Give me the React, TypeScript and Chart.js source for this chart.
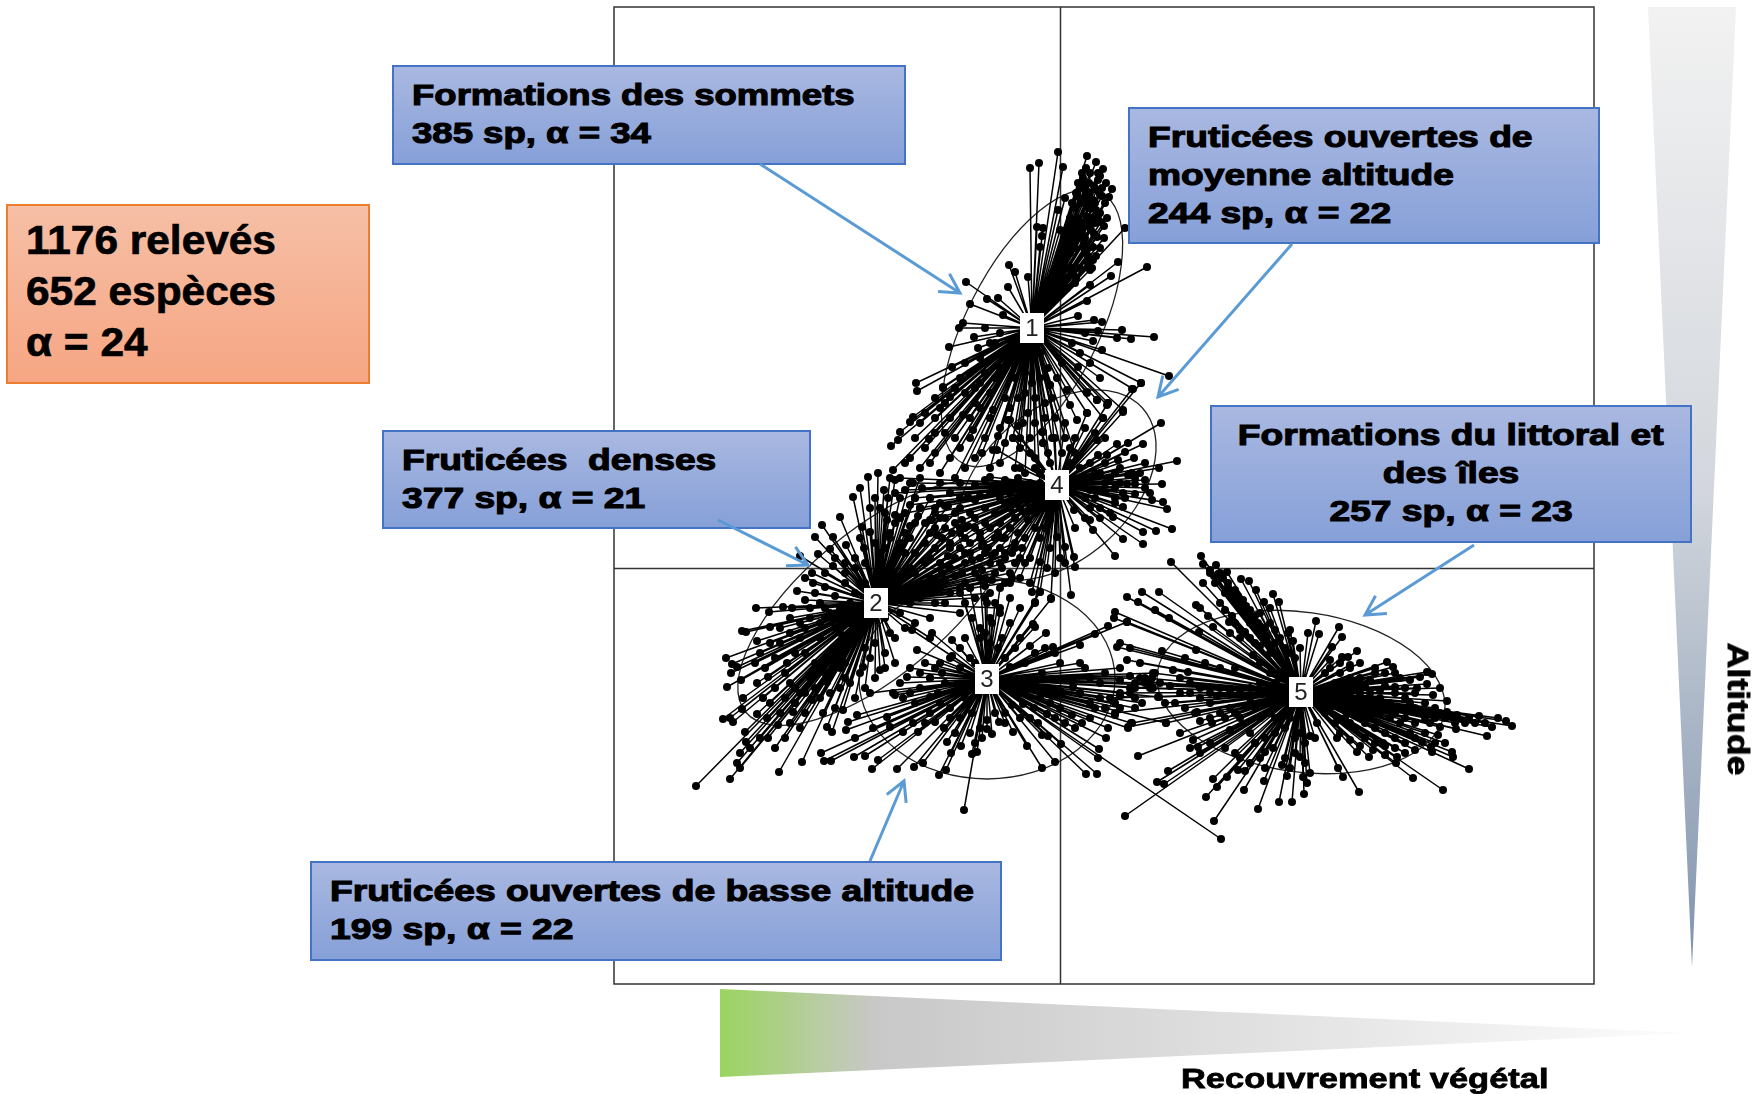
import React, { useEffect, useRef } from "react";
import { Chart, registerables } from "chart.js";

Chart.register(...registerables);

type P = [number, number];

const classLabels = ["1", "2", "3", "4", "5"];
const classCentres: P[] = [[-28, 240], [-184, -35], [-73, -111], [-3, 83], [241, -124]];
// semi-axes and tilt (degrees) of each class ellipse
const ellipseA = [152, 170, 128, 115, 145];
const ellipseB = [66, 72, 100, 75, 80];
const ellipseTilt = [-63, -40, 0, -42, 8];

const class1Points: P[] = [
  [-30,400],[-21,405],[-2,416],[3,401],[27,412],[36,406],[43,399],[38,395],[52,379],[49,371],[40,373],[5,370],[23,390],[38,388],[42,380],[65,340],[37,331],[33,321],[33,308],[58,306],[87,301],[51,292],[13,295],[15,285],[30,283],[27,267],[18,252],[34,248],[42,246],[62,238],[57,230],[38,237],[33,227],[71,229],[94,231],[109,192],[81,185],[73,179],[40,190],[47,163],[18,201],[27,176],[37,168],
  [-94,286],[-51,303],[-45,296],[-52,281],[-32,291],[-90,264],[-73,269],[-62,270],[-57,253],[-97,245],[-101,240],[-75,240],[-86,231],[-111,221],[-82,220],[-108,201],[-144,185],[-143,177],[-117,180],[-110,171],
  [-23,341],[-17,340],[-18,332],[-20,321],[-2,358],[0,338],
  [20,380],[25,370],[28,360],[32,350],[35,345],[30,375],[35,365],[40,355],[15,360],[18,350],[22,340],[10,350],[12,330],[8,320],[5,310],[15,320],[25,330],[30,340],[0,300],[3,290],[-5,285],[-10,280],[7,280],[12,300],[16,290],[20,300],[24,320],[28,312],[18,330],[14,345],[26,352],[33,368],[37,378],[21,365],[17,372],[29,385],
  [24,385],[26,378],[28,372],[31,366],[33,360],[36,358],[38,352],[41,346],[44,342],[27,348],[29,344],[31,338],[34,334],[20,345],[22,335],[24,325],[26,318],[28,305],[30,298],[16,335],[14,325],[10,315],[6,300],[2,296],[32,300],[36,312],[40,320],[44,330],[47,350],[45,365],[42,372],[46,385],[34,382],[40,392],[30,395],[26,400],[22,395],[18,385],[16,375],[12,365],[9,340],[7,330],[4,322],[1,315],[-3,305],[-7,295],
  [-160,136],[-162,128],[-169,122],[-147,151],[-150,146],[-125,150],[-131,129],[-117,181],[-120,160],[-105,130],[-97,153],[-87,138],[-80,185],[-67,158],[-50,148],[-37,145],[-32,155],[-47,130],[-67,118],[-17,125],[-17,136],[-10,183],[7,178],[10,163],[27,155],[43,150],[27,175],[37,168],[48,165],[63,158],[17,148],[-130,105],[-167,98],
  [-60,200],[-45,190],[-35,175],[-25,170],[-15,165],[-5,150],[-70,175],[-85,165],[-95,175],[-55,170],[-40,120],[-25,110],[-10,105],[5,130],[15,115],[-75,205],[-90,195],[-65,225],[-50,218],[20,215],[30,205],[42,218],[12,225],[25,235],[-12,200],[-20,215],[2,205],
  [-60,235],[-70,225],[-80,210],[-95,205],[-100,190],[-105,180],[-115,165],[-125,170],[-135,155],[-140,145],[-90,150],[-80,160],[-70,150],[-60,140],[-50,160],[-42,170],[-35,195],[-28,185],[-20,190],[-15,150],[-8,170],[-3,190],[-30,130],[-55,125],[-75,130],[-100,120],[-115,135],[-135,120],[-150,110],[-65,190],[-50,205],[-40,215],[-85,180],[-75,195],
  [-125,115],[-110,110],[-95,100],[-85,110],[-70,100],[-60,105],[-45,100],[-35,95],[-20,85],[-155,105],[-140,100],[-120,95],[-105,90],[-145,130],[-125,135],[-110,150],[-90,130],[-78,115],[-62,132],[-42,142],[-25,145],[-8,130],[2,115],
];

const class2Points: P[] = [
  [-207,71],[-220,51],[-238,43],[-245,31],[-227,31],[-214,23],[-230,19],[-242,14],[-260,12],[-227,2],[-248,-5],[-247,-15],[-263,-23],[-235,-19],[-255,-32],[-304,-40],[-291,-44],[-277,-39],[-268,-40],[-318,-63],[-314,-64],[-290,-59],[-303,-73],[-334,-90],[-328,-96],[-323,-99],[-329,-105],[-305,-95],[-319,-112],[-333,-119],[-303,-115],[-292,-109],[-273,-95],[-317,-130],[-297,-130],[-318,-141],[-337,-151],[-330,-150],[-327,-154],[-303,-146],[-293,-150],[-315,-164],[-282,-157],[-314,-174],[-292,-170],[-320,-185],[-323,-195],[-320,-200],[-330,-211],[-364,-218],[-281,-204],[-258,-194],[-267,-144],[-255,-145],[-265,-120],[-270,-115],[-260,-125],[-237,-145],[-233,-159],[-228,-164],[-225,-140],[-217,-142],[-215,-110],[-233,-114],[-248,-132],[-197,-99],[-180,-102],
  [-192,91],[-182,95],[-185,70],[-198,41],[-190,36],[-173,48],[-200,80],[-176,78],[-165,88],
  [-140,60],[-120,50],[-100,40],[-80,30],[-60,20],[-40,10],[-130,35],[-110,25],[-90,15],[-70,5],[-50,-5],[-150,30],[-160,70],[-150,85],[-140,90],[-130,70],[-170,90],[-160,50],[-175,20],[-165,10],[-150,0],[-130,10],[-110,0],[-95,-15],[-120,-20],[-140,-15],[-100,-45],[-85,-30],[-70,-25],[-60,-40],[-130,-50],
  [-260,-70],[-240,-70],[-225,-60],[-250,-50],[-220,-40],[-230,-85],[-210,-75],[-245,-95],[-215,-95],[-270,-65],[-280,-75],[-235,-50],[-255,-60],[-265,-85],[-285,-90],[-275,-105],[-250,-110],[-255,-85],[-210,-55],[-200,-60],[-205,-25],[-215,-15],[-225,-28],[-240,-35],[-205,-45],[-195,-80],[-185,-75],[-175,-85],[-165,-70],[-155,-60],[-205,10],[-195,5],[-215,5],[-180,15],[-170,30],[-145,45],[-125,20],[-100,20],[-115,-35],[-150,-35],[-165,-15],
  [-175,55],[-165,45],[-155,55],[-145,70],[-135,45],[-125,60],[-115,40],[-105,55],[-95,30],[-85,40],[-75,15],[-65,30],[-55,10],[-45,25],[-145,15],[-135,25],[-120,5],[-105,10],[-95,5],[-85,-5],[-75,-10],[-65,-5],[-55,-15],[-155,15],[-145,-5],[-130,-10],[-115,-12],[-100,-25],[-155,-25],[-140,-30],[-125,-35],[-110,-25],[-170,35],[-160,25],[-150,42],[-180,60],[-172,70],[-190,60],[-196,20],[-185,25],[-200,30],[-178,-10],[-168,-5],[-160,-10],
  [-290,-75],[-280,-60],[-270,-50],[-260,-55],[-250,-40],[-240,-55],[-230,-45],[-220,-65],[-210,-35],[-300,-85],[-295,-100],[-285,-120],[-275,-130],[-265,-135],[-255,-125],[-245,-120],[-235,-105],[-225,-90],[-290,-135],[-280,-145],[-270,-155],[-260,-160],[-300,-170],[-285,-180],[-275,-170],[-310,-180],[-240,-130],[-230,-125],[-220,-120],[-210,-115],[-200,-105],[-190,-90],[-205,-130],[-195,-120],[-185,-110],[-175,-100],[-165,-95],[-220,-100],[-235,-40],[-245,-25],[-255,-10],[-235,-5],[-225,10],[-215,-5],[-205,0],[-195,-15],[-190,-50],[-175,-50],[-160,-45],[-145,-55],[-130,-70],[-170,-65],
  [-125,40],[-118,30],[-108,35],[-92,42],[-78,22],[-68,12],[-58,30],[-48,15],[-38,20],[-135,5],[-112,12],[-98,-5],[-88,8],[-78,-2],[-68,-12],[-58,0],[-48,-10],[-155,35],[-142,52],[-128,48],[-112,62],[-98,48],[-148,-18],[-135,-22],[-118,-5],[-105,-8],[-90,-20],[-75,-18],
];

const class3Points: P[] = [
  [-163,-201],[-146,-199],[-137,-195],[-121,-207],[-114,-202],[-109,-185],[-113,-174],[-99,-178],[-88,-186],[-83,-184],[-96,-242],[-116,-160],[-142,-164],[-157,-164],[-147,-155],[-170,-159],[-135,-155],[-125,-154],[-73,-152],[-68,-166],[-73,-161],[-61,-154],[-47,-164],[-33,-178],[-18,-200],[-5,-194],[1,-176],[-12,-168],[-18,-167],[26,-206],[37,-206],[38,-190],[39,-181],[46,-170],[48,-160],[68,-160],[71,-155],[106,-155],[55,-147],[22,-155],[12,-147],[-13,-146],[-26,-140],[-37,-136],[-48,-137],[2,-125],[-3,-125],[12,-111],[13,-119],[-18,-105],[90,-117],[92,-110],[95,-105],[90,-120],[98,-129],[20,-77],[-7,-79],[35,-66],[48,-58],[67,-54],[-14,-65],[-25,-59],[-27,-56],[-50,-99],[-65,-35],[-73,-35],[-25,-35],[-20,-24],[-9,-31],
  [-148,-62],[-128,-65],[-108,-72],[-143,-82],[-130,-110],[-165,-127],[-157,-130],[-130,-129],[-122,-125],[-145,-135],[-173,-149],
  [-239,-185],[-236,-193],[-229,-193],[-206,-189],[-195,-188],[-188,-201],[-182,-192],[-205,-170],[-187,-160],[-212,-154],[-214,-162],[-203,-147],[-190,-125],[-167,-125],[-153,-109],[-130,-110],[161,-271],
  [-90,-20],[-75,-30],[-60,-20],[-50,-30],[-40,-40],[-95,-35],[-80,-10],[-100,-20],[-110,-90],[-100,-100],[-115,-115],[-105,-125],[-95,-130],[-110,-140],[-100,-150],[-88,-145],[-80,-160],[-55,-145],[-40,-125],[-30,-120],[-20,-130],[-10,-135],[0,-140],[30,-135],[40,-130],[20,-125],[-35,-95],[-45,-80],[-58,-70],[-30,-78],[-120,-95],[-80,-60],[-68,-55],[-88,-50],
  [-90,-90],[-85,-95],[-80,-70],[-75,-65],[-70,-75],[-62,-80],[-55,-90],[-100,-80],[-95,-70],[-108,-88],[-118,-105],[-125,-100],[-135,-95],[-140,-105],[-150,-100],[-160,-115],[-140,-120],[-150,-125],[-120,-135],[-130,-145],[-110,-150],[-105,-165],[-90,-165],[-85,-175],[-78,-170],[-65,-145],[-55,-155],[-40,-150],[-30,-150],[-22,-155],[-5,-150],[5,-155],[15,-160],[30,-150],[35,-140],[45,-140],[55,-135],[60,-128],[70,-125],[75,-120],[60,-112],[40,-115],[30,-110],[45,-105],[60,-100],[25,-100],[20,-95],[0,-95],[-5,-85],[-15,-80],[-25,-85],[-40,-70],[-50,-55],[-60,-45],[-70,-50],[85,-115],[80,-110],[70,-108],[75,-130],[60,-140],[75,-140],[82,-135],
];

const class4Points: P[] = [
  [101,145],[83,124],[68,125],[57,124],[65,116],[74,110],[117,107],[99,100],[85,105],[58,108],[47,113],[38,113],[68,93],[72,95],[102,84],[75,84],[67,84],[75,74],[92,68],[103,66],[107,59],[63,75],[45,76],[63,61],[53,51],[112,39],[96,37],[83,36],[63,29],[83,24],[33,38],[55,12],[14,58],[15,1],[14,11],[11,-27],[-9,-30],[5,21],[-3,31],[-20,6],[-13,0],[-28,-24],[-20,-24],[-25,-34],[-45,5],[-62,35],[-77,25],[-32,48],[-10,48],[-100,60],[-123,33],[-70,91],[-92,71],[-85,83],[-138,80],[-147,85],[-160,90],[-165,75],[-150,63],[-165,53],[-52,148],[-63,118],[-47,130],[-17,125],[-18,136],[-10,183],[27,155],[43,150],[63,156],[48,165],[72,179],[81,185],[37,128],
  [-40,100],[-30,85],[-25,70],[-40,60],[-60,70],[-75,60],[-100,85],[-110,75],[-120,65],[-85,50],[-55,30],[-45,20],[-35,30],[-25,40],[-15,60],[-8,70],[10,120],[15,130],[25,140],[35,135],[45,130],[-50,75],[-65,80],[-80,72],[-35,70],[-30,60],[-20,95],[-12,115],[-5,130],[5,145],[50,90],[55,80],[40,95],[35,70],[30,60],[40,60],[25,50],[15,40],
  [-20,75],[-15,80],[-30,75],[-40,78],[-50,60],[-55,65],[-65,55],[-70,40],[-75,45],[-90,55],[-95,40],[-105,45],[-115,50],[-125,55],[-130,70],[-140,60],[-45,50],[-50,40],[-35,55],[-25,55],[-20,30],[-10,20],[0,10],[5,5],[-5,-5],[-30,10],[-35,5],[-40,-10],[-30,-15],[-55,15],[-65,15],[-80,10],[-90,25],[-100,35],[-110,20],[-10,90],[-25,100],[-30,115],[-40,130],[5,95],[10,105],[20,100],[30,105],[35,95],[45,105],[55,95],[60,100],[65,70],[55,65],[50,55],[40,50],[30,48],[25,70],[30,78],[45,85],[55,70],[60,85],[75,90],[80,95],[85,88],[85,80],[90,75],
  [-70,75],[-85,68],[-100,70],[-115,62],[-130,48],[-145,70],[-155,78],[-60,45],[-80,35],[-95,15],[-60,5],[-50,-15],[-72,20],[-42,35],[-15,40],[-55,88],[-42,90],[-75,88],[-120,85],
];

const class5Points: P[] = [
  [141,12],[143,4],[156,3],[160,-5],[167,-4],[111,6],[143,-15],[181,-11],[189,-13],[168,-19],[196,-22],[213,-26],[219,-34],[204,-34],[175,-32],[180,-40],[99,-24],[82,-24],[67,-29],[78,-34],[95,-42],[109,-50],[136,-37],[140,-40],[148,-48],[172,-48],[169,-54],[153,-59],[55,-44],[54,-50],[67,-54],[139,-64],[170,-65],[185,-64],[230,-62],[228,-65],[233,-73],[60,-75],[57,-79],[70,-80],[102,-83],[136,-82],[67,-92],[80,-95],[113,-102],[128,-104],[93,-105],[90,-114],[93,-120],[99,-129],[157,-128],[193,-87],[240,-80],[256,-53],[248,-65],[259,-66],[279,-59],[282,-69],[272,-79],[297,-83],[288,-89],[290,-97],[282,-89],[270,-92],[327,-94],[333,-99],[335,-105],[315,-105],[360,-109],[367,-104],[372,-106],[367,-116],[380,-120],[357,-120],[373,-127],[387,-133],[335,-119],
  [452,-158],[446,-153],[438,-150],[432,-159],[427,-168],[419,-148],[409,-150],[397,-147],[396,-161],[387,-144],[380,-145],[378,-167],[380,-159],[392,-184],[393,-189],[409,-201],[383,-222],[371,-179],[372,-184],[362,-174],[355,-182],[353,-210],[337,-189],[336,-195],[325,-187],[313,-182],[323,-175],[309,-189],[297,-184],[299,-224],[283,-209],[278,-200],[277,-170],[250,-168],[257,-155],[247,-215],[244,-226],[243,-209],[240,-189],[232,-234],[219,-234],[227,-208],[198,-241],[204,-213],[184,-222],[213,-180],[205,-184],[222,-197],[185,-203],[178,-202],[167,-209],[153,-211],[157,-219],[146,-229],[154,-253],[65,-248],[108,-203],[97,-214],[104,-216],[78,-188],[138,-179],[133,-172],[106,-155],[170,-162],[152,-155],[140,-153],[137,-144],[55,-145],[68,-159],[72,-155],
  [300,-110],[310,-125],[320,-130],[330,-135],[340,-140],[350,-135],[345,-150],[355,-155],[330,-150],[320,-145],[310,-140],[300,-135],[290,-125],[285,-115],[295,-145],[305,-155],[315,-160],[325,-165],[335,-170],[345,-175],[360,-145],[365,-150],[370,-155],[375,-150],[350,-165],[340,-155],[290,-155],[280,-140],[275,-130],[365,-135],[355,-125],[345,-120],[325,-118],[310,-112],[280,-105],[290,-110],
  [200,-115],[190,-130],[170,-140],[180,-150],[160,-145],[150,-135],[140,-130],[130,-125],[175,-100],[160,-100],[145,-95],[125,-90],[200,-95],[210,-105],[195,-75],[180,-70],[205,-60],[215,-75],[190,-50],[200,-45],[210,-40],[150,-5],[158,-12],[165,-25],[172,-28],[178,-35],[185,-45],[190,-55],[200,-58],[155,-15],
  [150,-2],[154,-8],[158,-6],[163,-10],[168,-15],[170,-25],[175,-22],[178,-28],[183,-32],[186,-38],[190,-42],[195,-48],[198,-55],[203,-62],[207,-68],[210,-55],[215,-62],[220,-70],[225,-80],[230,-85],[235,-90],[160,-35],[165,-42],[175,-55],[180,-62],[190,-70],[200,-78],[210,-85],[220,-92],[225,-100],
  [270,-100],[280,-95],[290,-100],[300,-95],[315,-100],[325,-105],[340,-110],[350,-112],[335,-125],[320,-122],[305,-118],[295,-120],[285,-125],[275,-115],[265,-105],[270,-120],[280,-130],[290,-135],[300,-125],[315,-135],[325,-140],[335,-145],[345,-130],[355,-140],[365,-145],[375,-140],[385,-150],[395,-155],[405,-155],[415,-155],[425,-155],[270,-140],[285,-150],[295,-160],[305,-170],[315,-175],[325,-178],[335,-180],[345,-185],[355,-170],[365,-165],[375,-175],[385,-175],[300,-150],[310,-150],[265,-145],[275,-155],[280,-165],[290,-172],[300,-178],
  [120,-110],[130,-115],[140,-120],[150,-125],[160,-120],[170,-125],[180,-125],[190,-120],[200,-125],[210,-125],[215,-115],[220,-110],[225,-105],[205,-135],[195,-140],[185,-138],[175,-145],[165,-150],[210,-145],[200,-150],[215,-150],[190,-165],[195,-175],[205,-170],[215,-165],[225,-160],[230,-150],[235,-170],[245,-175],[255,-170],[240,-165],[100,-115],[110,-118],[120,-125],[105,-135],[115,-135],[125,-140],[135,-145],[150,-150],[85,-110],[75,-115],[70,-120],[60,-125],[50,-130],
  [120,-165],[130,-180],[140,-185],[150,-175],[165,-180],[175,-185],[180,-190],[190,-195],[200,-190],[230,-200],[235,-185],[245,-195],[250,-205],[225,-190],[205,-200],
];

const classPoints = [class1Points, class2Points, class3Points, class4Points, class5Points];

const axisMinX = -446, axisMaxX = 534, axisMinY = -416, axisMaxY = 561;

const blueBoxes = [
  { left: 392, top: 65, width: 514, height: 100, lines: ["Formations des sommets", "385 sp, α = 34"], center: false, stretch: 1.218 },
  { left: 1128, top: 107, width: 472, height: 137, lines: ["Fruticées ouvertes de", "moyenne altitude", "244 sp, α = 22"], center: false, stretch: 1.24 },
  { left: 1210, top: 405, width: 482, height: 138, lines: ["Formations du littoral et", "des îles", "257 sp, α = 23"], center: true, stretch: 1.24 },
  { left: 382, top: 430, width: 429, height: 99, lines: ["Fruticées  denses", "377 sp, α = 21"], center: false, stretch: 1.24 },
  { left: 310, top: 861, width: 692, height: 100, lines: ["Fruticées ouvertes de basse altitude", "199 sp, α = 22"], center: false, stretch: 1.242 },
];
const summaryLines = ["1176 relevés", "652 espèces", "α = 24"];
const arrows = [
  [760, 164, 960, 293],
  [1292, 244, 1158, 397],
  [718, 520, 808, 565],
  [1474, 545, 1365, 615],
  [870, 861, 904, 781],
];

const frame = {
  id: "frame",
  beforeDatasetsDraw(chart: any) {
    const { ctx, chartArea: a, scales } = chart;
    ctx.save();
    ctx.strokeStyle = "#333";
    ctx.lineWidth = 1.5;
    ctx.strokeRect(a.left, a.top, a.right - a.left, a.bottom - a.top);
    const x0 = scales.x.getPixelForValue(0) + 0.5, y0 = scales.y.getPixelForValue(0) + 0.5;
    ctx.beginPath();
    ctx.moveTo(x0, a.top); ctx.lineTo(x0, a.bottom);
    ctx.moveTo(a.left, y0); ctx.lineTo(a.right, y0);
    ctx.stroke();
    ctx.strokeStyle = "#222";
    ctx.lineWidth = 1.3;
    classCentres.forEach((c, i) => {
      const cx = scales.x.getPixelForValue(c[0]), cy = scales.y.getPixelForValue(c[1]);
      const rx = Math.abs(scales.x.getPixelForValue(c[0] + ellipseA[i]) - cx);
      const ry = Math.abs(scales.y.getPixelForValue(c[1] + ellipseB[i]) - cy);
      ctx.beginPath();
      ctx.ellipse(cx, cy, rx, ry, (ellipseTilt[i] * Math.PI) / 180, 0, Math.PI * 2);
      ctx.stroke();
    });
    ctx.restore();
  },
  afterDatasetsDraw(chart: any) {
    const { ctx, scales } = chart;
    ctx.save();
    ctx.font = '24px "Liberation Sans"';
    ctx.textAlign = "center";
    ctx.textBaseline = "middle";
    classCentres.forEach((c, i) => {
      const cx = scales.x.getPixelForValue(c[0]), cy = scales.y.getPixelForValue(c[1]);
      ctx.fillStyle = "#fff";
      ctx.fillRect(cx - 12, cy - 15, 24, 30);
      ctx.fillStyle = "#222";
      ctx.fillText(classLabels[i], cx, cy + 1);
    });
    ctx.restore();
  },
};

const Stretched = ({ text, sx, size, center }: any) => (
  <div style={{ height: 38, lineHeight: "38px", fontSize: size, whiteSpace: "pre", textAlign: center ? "center" : "left" }}>
    <span style={{ display: "inline-block", transform: `scaleX(${sx})`, transformOrigin: center ? "center" : "left" }}>{text}</span>
  </div>
);

export default function App() {
  const ref = useRef<HTMLCanvasElement>(null);
  useEffect(() => {
    const datasets: any[] = classPoints.map((pts, i) => {
      const c = classCentres[i];
      const star: { x: number; y: number }[] = [];
      pts.forEach((p) => {
        star.push({ x: c[0], y: c[1] });
        star.push({ x: p[0], y: p[1] });
      });
      return {
        label: classLabels[i],
        data: star,
        showLine: true,
        borderColor: "#000",
        backgroundColor: "#000",
        borderWidth: 1.5,
        pointBorderWidth: 0,
        pointRadius: (ctx: any) => (ctx.dataIndex % 2 === 1 ? 4 : 0),
        tension: 0,
      };
    });
    const chart = new Chart(ref.current!, {
      type: "scatter",
      data: { datasets },
      options: {
        animation: false,
        responsive: false,
        devicePixelRatio: 1,
        layout: { padding: { left: 614, top: 7, right: 160, bottom: 110 } },
        plugins: { legend: { display: false }, tooltip: { enabled: false } },
        scales: {
          x: { type: "linear", min: axisMinX, max: axisMaxX, display: false },
          y: { type: "linear", min: axisMinY, max: axisMaxY, display: false },
        },
      },
      plugins: [frame],
    });
    return () => chart.destroy();
  }, []);

  const font = '"Liberation Sans", Arial, sans-serif';
  return (
    <div style={{ position: "absolute", left: 0, top: 0, width: 1754, height: 1094, overflow: "hidden", background: "#fff", fontFamily: font, fontWeight: 700, color: "#000" }}>
      <canvas ref={ref} width={1754} height={1094} style={{ position: "absolute", left: 0, top: 0 }} />

      <div style={{ position: "absolute", left: 1648, top: 7, width: 88, height: 960, clipPath: "polygon(0 0, 100% 0, 50% 100%)", background: "linear-gradient(#f2f2f2, #d3d7dd 50%, #7f93ae)" }} />
      <div style={{ position: "absolute", left: 720, top: 989, width: 970, height: 88, clipPath: "polygon(0 0, 100% 50%, 0 100%)", background: "linear-gradient(90deg, #9bd45f, #c8c8c8 16%, #fbfbfb 97%)" }} />

      <div style={{ position: "absolute", left: 6, top: 204, width: 360, height: 176, border: "2px solid #ed7d31", background: "linear-gradient(#f6bfa6, #f6a683)" }}>
        {summaryLines.map((l, i) => (
          <div key={i} style={{ position: "absolute", left: 18, top: 11 + i * 51, fontSize: 40, lineHeight: "46px", whiteSpace: "pre", transform: "scaleX(1.06)", transformOrigin: "left", WebkitTextStroke: "0.7px #000" }}>{l}</div>
        ))}
      </div>

      {blueBoxes.map((b, i) => (
        <div key={i} style={{ position: "absolute", left: b.left, top: b.top, width: b.width - 4, height: b.height - 4, border: "2px solid #4472c4", background: "linear-gradient(#a9b8e1, #86a0d8)" }}>
          <div style={{ position: "absolute", left: b.center ? 0 : 18, right: 0, top: 9, WebkitTextStroke: "1.1px #000" }}>
            {b.lines.map((l, j) => <Stretched key={j} text={l} sx={b.stretch} size={30} center={b.center} />)}
          </div>
        </div>
      ))}

      <svg width={1754} height={1094} style={{ position: "absolute", left: 0, top: 0, pointerEvents: "none" }}>
        {arrows.map(([x1, y1, x2, y2], i) => {
          const t = Math.atan2(y2 - y1, x2 - x1);
          const h = 22, w = 0.5;
          const ax = x2 - h * Math.cos(t - w), ay = y2 - h * Math.sin(t - w);
          const bx = x2 - h * Math.cos(t + w), by = y2 - h * Math.sin(t + w);
          return <path key={i} d={`M${x1} ${y1}L${x2} ${y2}M${ax} ${ay}L${x2} ${y2}L${bx} ${by}`} fill="none" stroke="#5b9bd5" strokeWidth={3} />;
        })}
      </svg>

      <div style={{ position: "absolute", left: 1181, top: 1061, fontSize: 28, lineHeight: "36px", whiteSpace: "pre", transform: "scaleX(1.23)", transformOrigin: "left", WebkitTextStroke: "0.8px #000" }}>Recouvrement végétal</div>
      <div style={{ position: "absolute", left: 1738, top: 709, fontSize: 30, lineHeight: "34px", whiteSpace: "pre", transform: "translate(-50%, -50%) rotate(90deg) scaleX(1.19)", WebkitTextStroke: "0.8px #000" }}>Altitude</div>
    </div>
  );
}
